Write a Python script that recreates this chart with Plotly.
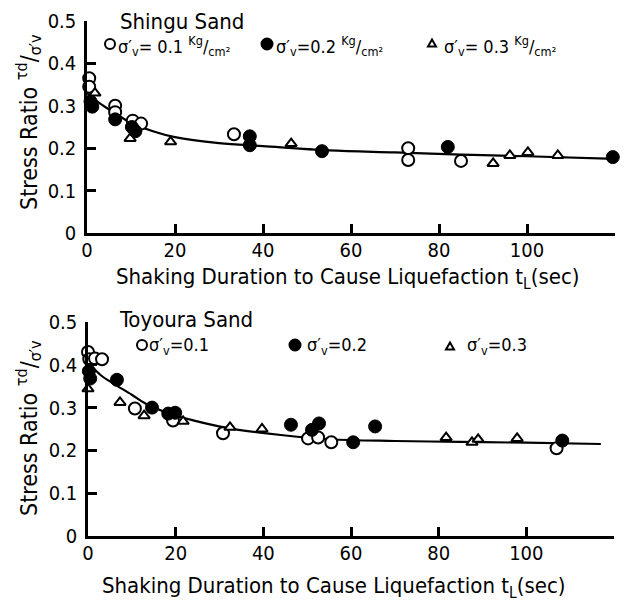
import plotly.graph_objects as go

# ---------------- data: Shingu Sand (top) ----------------
shingu_t_01 = [0.5, 0.5, 6.4, 6.4, 10.4, 12.3, 33.4, 73, 73, 85]
shingu_r_01 = [0.365, 0.345, 0.30, 0.285, 0.265, 0.258, 0.233, 0.20, 0.172, 0.17]
shingu_t_02 = [0.8, 1.2, 6.4, 10.2, 11, 37, 37, 53.4, 82, 119.5]
shingu_r_02 = [0.31, 0.298, 0.268, 0.25, 0.24, 0.228, 0.207, 0.193, 0.203, 0.179]
shingu_t_03 = [1.8, 9.8, 19, 46.4, 92.3, 96.1, 100.2, 107]
shingu_r_03 = [0.33, 0.223, 0.215, 0.211, 0.164, 0.183, 0.19, 0.183]
shingu_curve_t = [0, 3, 6, 10, 15, 20, 30, 40, 55, 70, 85, 100, 120]
shingu_curve_r = [0.33, 0.305, 0.285, 0.26, 0.24, 0.226, 0.212, 0.205, 0.195, 0.19, 0.185, 0.181, 0.175]

# ---------------- data: Toyoura Sand (bottom) ----------------
toyoura_t_01 = [0, 0.3, 1.6, 3.2, 10.7, 19.4, 30.8, 50.2, 52.5, 55.5, 106.9]
toyoura_r_01 = [0.43, 0.413, 0.415, 0.413, 0.298, 0.27, 0.24, 0.228, 0.23, 0.219, 0.205]
toyoura_t_02 = [0.2, 0.5, 6.6, 14.6, 18.3, 19.9, 46.3, 51.1, 52.7, 60.5, 65.5, 108.2]
toyoura_r_02 = [0.385, 0.368, 0.365, 0.30, 0.286, 0.288, 0.26, 0.248, 0.263, 0.219, 0.256, 0.223]
toyoura_t_03 = [0, 7.3, 12.8, 21.7, 32.4, 39.7, 81.7, 87.6, 89, 97.9]
toyoura_r_03 = [0.344, 0.312, 0.281, 0.268, 0.254, 0.25, 0.23, 0.219, 0.226, 0.228]
toyoura_curve_t = [0.5, 3, 6, 10, 13, 18, 24, 32, 44, 55, 70, 85, 100, 117]
toyoura_curve_r = [0.40, 0.375, 0.355, 0.33, 0.31, 0.288, 0.27, 0.252, 0.236, 0.226, 0.222, 0.220, 0.218, 0.215]

x_ticks = [0, 20, 40, 60, 80, 100, 120]
x_ticklabels = ["0", "20", "40", "60", "80", "100", "120"]
y_ticks = [0, 0.1, 0.2, 0.3, 0.4, 0.5]
y_ticklabels = ["0", "0.1", "0.2", "0.3", "0.4", "0.5"]

FONT = "Liberation Sans Narrow, DejaVu Sans Condensed, Arial Narrow, DejaVu Sans, sans-serif"
W, H = 631, 606

fig = go.Figure()

def add_panel(xa, ya, ct, cr, t1, r1, t2, r2, t3, r3):
    fig.add_trace(go.Scatter(x=ct, y=cr, mode="lines", line=dict(color="black", width=2.2, shape="spline"),
                             xaxis=xa, yaxis=ya, showlegend=False, hoverinfo="skip"))
    fig.add_trace(go.Scatter(x=t1, y=r1, mode="markers", cliponaxis=False, showlegend=False,
                             marker=dict(symbol="circle", size=12, color="white", line=dict(color="black", width=2)),
                             xaxis=xa, yaxis=ya))
    fig.add_trace(go.Scatter(x=t3, y=r3, mode="markers", cliponaxis=False, showlegend=False,
                             marker=dict(symbol="triangle-up", size=10, color="white", line=dict(color="black", width=2)),
                             xaxis=xa, yaxis=ya))
    fig.add_trace(go.Scatter(x=t2, y=r2, mode="markers", cliponaxis=False, showlegend=False,
                             marker=dict(symbol="circle", size=13, color="black", line=dict(color="black", width=1)),
                             xaxis=xa, yaxis=ya))

add_panel("x", "y", shingu_curve_t, shingu_curve_r, shingu_t_01, shingu_r_01,
          shingu_t_02, shingu_r_02, shingu_t_03, shingu_r_03)
add_panel("x2", "y2", toyoura_curve_t, toyoura_curve_r, toyoura_t_01, toyoura_r_01,
          toyoura_t_02, toyoura_r_02, toyoura_t_03, toyoura_r_03)

axis_common = dict(showgrid=False, zeroline=False, showline=True, linecolor="black", linewidth=2.5,
                   ticks="inside", tickcolor="black", tickwidth=2.5, ticklen=9, automargin=False,
                   tickfont=dict(family=FONT, size=20, color="black"))

fig.update_layout(
    width=W, height=H, margin=dict(l=0, r=0, t=0, b=0, autoexpand=False),
    paper_bgcolor="white", plot_bgcolor="white", showlegend=False,
    xaxis=dict(domain=[87 / W, 615 / W], range=[0, 120], tickvals=x_ticks, ticktext=x_ticklabels, anchor="y",
               ticklabelstandoff=-3, **axis_common),
    yaxis=dict(domain=[1 - 233 / H, 1 - 21 / H], range=[0, 0.5], tickvals=y_ticks, ticktext=y_ticklabels,
               anchor="x", ticklabelstandoff=4, **axis_common),
    xaxis2=dict(domain=[88 / W, 614 / W], range=[0, 120], tickvals=x_ticks, ticktext=x_ticklabels, anchor="y2",
                ticklabelstandoff=-3, **axis_common),
    yaxis2=dict(domain=[1 - 536 / H, 1 - 322 / H], range=[0, 0.5], tickvals=y_ticks, ticktext=y_ticklabels,
                anchor="x2", ticklabelstandoff=4, **axis_common),
)

def ann(x, y, text, size=22, angle=0, xanchor="center"):
    fig.add_annotation(x=x / W, y=1 - y / H, xref="paper", yref="paper", text=text, showarrow=False,
                       xanchor=xanchor, yanchor="middle", textangle=angle,
                       font=dict(family=FONT, size=size, color="black"))

def circle(cx, cy, d, filled):
    fig.add_shape(type="circle", xref="paper", yref="paper",
                  x0=(cx - d / 2) / W, x1=(cx + d / 2) / W, y0=1 - (cy + d / 2) / H, y1=1 - (cy - d / 2) / H,
                  line=dict(color="black", width=2), fillcolor="black" if filled else "white")

def triangle(cx, cy, s):
    p = [(cx - s / 2, cy + s * 0.43), (cx + s / 2, cy + s * 0.43), (cx, cy - s * 0.43)]
    path = "M {} {} L {} {} L {} {} Z".format(*[v for (px, py) in p for v in (px / W, 1 - py / H)])
    fig.add_shape(type="path", xref="paper", yref="paper", path=path,
                  line=dict(color="black", width=2), fillcolor="white")

xtitle = "Shaking Duration to Cause Liquefaction t<sub>L</sub>(sec)"
ytitle = "Stress Ratio <sup>τd</sup>/<sub>σ′v</sub>"
unit = "<sup>Kg</sup>/<sub>cm²</sub>"

# top panel texts
ann(348, 278, xtitle, size=22)
ann(28, 122, ytitle, size=23, angle=-90)
ann(118, 21, "Shingu Sand", size=22, xanchor="left")
circle(110, 44, 10, False)
ann(116, 46, "σ′<sub>v</sub>= 0.1 " + unit, size=18, xanchor="left")
circle(267, 44, 11, True)
ann(274, 46, "σ′<sub>v</sub>=0.2 " + unit, size=18, xanchor="left")
triangle(432, 43, 8)
ann(442, 46, "σ′<sub>v</sub>= 0.3 " + unit, size=18, xanchor="left")

# bottom panel texts
ann(334, 587, xtitle, size=22)
ann(28, 428, ytitle, size=23, angle=-90)
ann(117, 320, "Toyoura Sand", size=22, xanchor="left")
circle(142, 345, 10, False)
ann(147, 346, "σ′<sub>v</sub>=0.1", size=18, xanchor="left")
circle(295, 345, 11, True)
ann(305, 346, "σ′<sub>v</sub>=0.2", size=18, xanchor="left")
triangle(450, 346, 8)
ann(465, 346, "σ′<sub>v</sub>=0.3", size=18, xanchor="left")

fig.write_html("out.html", config={"displayModeBar": False},
               post_script="document.body.style.margin='0';")
